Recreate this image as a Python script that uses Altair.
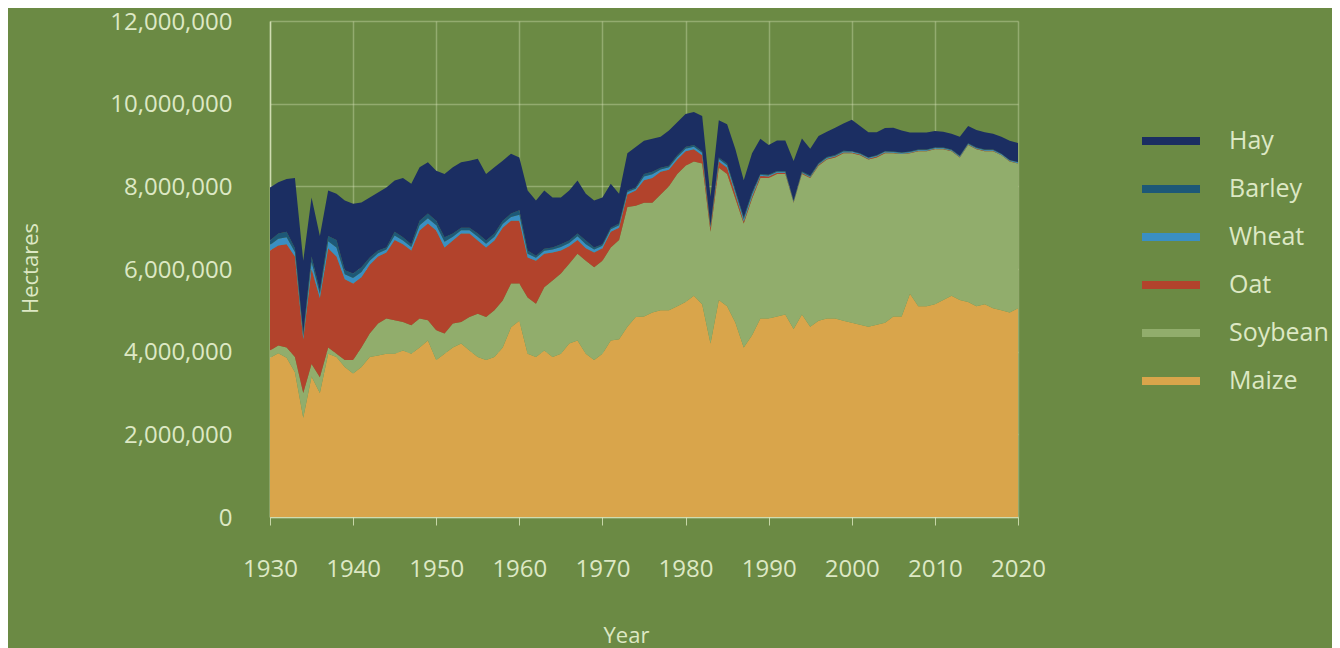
import altair as alt
import pandas as pd

years = list(range(1930, 2021))

# values in millions of hectares
maize = [3.85, 3.96, 3.85, 3.50, 2.40, 3.40, 3.00, 3.95, 3.87, 3.63,
         3.47, 3.63, 3.87, 3.91, 3.95, 3.95, 4.03, 3.95, 4.10, 4.27,
         3.80, 3.95, 4.10, 4.20, 4.03, 3.87, 3.80, 3.87, 4.10, 4.59,
         4.75, 3.95, 3.87, 4.03, 3.87, 3.95, 4.20, 4.27, 3.95, 3.80,
         3.95, 4.27, 4.30, 4.60, 4.84, 4.85, 4.95, 5.00, 5.00, 5.10,
         5.20, 5.35, 5.15, 4.20, 5.25, 5.10, 4.70, 4.10, 4.40, 4.80,
         4.80, 4.85, 4.90, 4.55, 4.90, 4.60, 4.75, 4.80, 4.80, 4.75,
         4.70, 4.65, 4.60, 4.65, 4.70, 4.85, 4.85, 5.40, 5.10, 5.10,
         5.15, 5.25, 5.35, 5.25, 5.20, 5.10, 5.15, 5.05, 5.00, 4.95, 5.05]
soybean = [0.18, 0.19, 0.25, 0.37, 0.60, 0.30, 0.38, 0.15, 0.08, 0.17,
           0.33, 0.47, 0.57, 0.77, 0.85, 0.81, 0.69, 0.69, 0.70, 0.49,
           0.72, 0.49, 0.58, 0.52, 0.81, 1.05, 1.04, 1.13, 1.14, 1.06,
           0.90, 1.36, 1.29, 1.53, 1.85, 1.94, 1.93, 2.10, 2.25, 2.24,
           2.25, 2.25, 2.40, 2.90, 2.69, 2.75, 2.65, 2.80, 3.00, 3.20,
           3.30, 3.25, 3.40, 2.70, 3.20, 3.20, 3.00, 3.00, 3.30, 3.40,
           3.40, 3.45, 3.40, 3.05, 3.40, 3.60, 3.75, 3.85, 3.90, 4.05,
           4.10, 4.10, 4.05, 4.05, 4.10, 3.95, 3.93, 3.40, 3.75, 3.75,
           3.75, 3.65, 3.50, 3.45, 3.80, 3.80, 3.70, 3.80, 3.75, 3.65, 3.50]
oat = [2.42, 2.42, 2.50, 2.43, 1.30, 2.30, 1.92, 2.40, 2.35, 1.95,
       1.85, 1.70, 1.66, 1.62, 1.60, 1.94, 1.88, 1.81, 2.13, 2.34,
       2.41, 2.08, 2.01, 2.14, 2.02, 1.77, 1.68, 1.69, 1.76, 1.52,
       1.52, 0.97, 1.04, 0.81, 0.68, 0.56, 0.42, 0.33, 0.30, 0.36,
       0.30, 0.38, 0.30, 0.30, 0.37, 0.55, 0.60, 0.55, 0.40, 0.35,
       0.35, 0.30, 0.20, 0.10, 0.15, 0.15, 0.10, 0.05, 0.05, 0.05,
       0.04, 0.03, 0.03, 0.02, 0.02, 0.02, 0.02, 0.02, 0.02, 0.02,
       0.02, 0.02, 0.02, 0.02, 0.02, 0.01, 0.01, 0.01, 0.01, 0.01,
       0.01, 0.01, 0.01, 0.01, 0.01, 0.01, 0.01, 0.01, 0.01, 0.01, 0.01]
wheat = [0.13, 0.16, 0.17, 0.11, 0.08, 0.17, 0.10, 0.17, 0.22, 0.12,
         0.13, 0.13, 0.10, 0.08, 0.07, 0.11, 0.09, 0.08, 0.13, 0.13,
         0.13, 0.14, 0.09, 0.08, 0.08, 0.09, 0.09, 0.09, 0.09, 0.09,
         0.14, 0.09, 0.07, 0.07, 0.07, 0.08, 0.08, 0.09, 0.10, 0.07,
         0.06, 0.06, 0.06, 0.06, 0.04, 0.09, 0.09, 0.06, 0.06, 0.06,
         0.06, 0.06, 0.06, 0.03, 0.06, 0.06, 0.06, 0.06, 0.06, 0.03,
         0.02, 0.02, 0.02, 0.02, 0.02, 0.02, 0.02, 0.02, 0.02, 0.02,
         0.02, 0.02, 0.02, 0.02, 0.02, 0.02, 0.02, 0.02, 0.02, 0.02,
         0.02, 0.02, 0.02, 0.02, 0.02, 0.02, 0.02, 0.02, 0.02, 0.02, 0.02]
barley = [0.11, 0.13, 0.13, 0.09, 0.07, 0.13, 0.08, 0.13, 0.18, 0.10,
          0.11, 0.11, 0.08, 0.07, 0.05, 0.09, 0.08, 0.07, 0.11, 0.11,
          0.11, 0.11, 0.08, 0.06, 0.06, 0.08, 0.08, 0.08, 0.08, 0.08,
          0.11, 0.08, 0.05, 0.05, 0.05, 0.07, 0.06, 0.07, 0.09, 0.05,
          0.04, 0.04, 0.04, 0.04, 0.03, 0.06, 0.06, 0.04, 0.04, 0.04,
          0.04, 0.04, 0.04, 0.02, 0.04, 0.04, 0.04, 0.04, 0.04, 0.02,
          0.02, 0.02, 0.02, 0.02, 0.02, 0.02, 0.02, 0.02, 0.02, 0.02,
          0.01, 0.01, 0.01, 0.01, 0.01, 0.01, 0.01, 0.01, 0.01, 0.01,
          0.01, 0.01, 0.01, 0.01, 0.01, 0.01, 0.01, 0.01, 0.01, 0.01, 0.01]
hay = [1.28, 1.24, 1.28, 1.70, 1.75, 1.43, 1.32, 1.10, 1.12, 1.69,
       1.69, 1.57, 1.45, 1.40, 1.45, 1.24, 1.43, 1.46, 1.29, 1.24,
       1.21, 1.53, 1.60, 1.58, 1.62, 1.81, 1.61, 1.60, 1.45, 1.45,
       1.28, 1.45, 1.34, 1.41, 1.21, 1.13, 1.21, 1.28, 1.13, 1.14,
       1.13, 1.06, 0.72, 0.90, 0.98, 0.80, 0.80, 0.75, 0.85, 0.80,
       0.80, 0.80, 0.85, 0.70, 0.90, 0.95, 1.00, 0.90, 0.95, 0.85,
       0.72, 0.74, 0.74, 0.95, 0.80, 0.65, 0.66, 0.61, 0.66, 0.66,
       0.76, 0.66, 0.61, 0.56, 0.56, 0.58, 0.53, 0.46, 0.41, 0.41,
       0.40, 0.38, 0.38, 0.46, 0.42, 0.42, 0.42, 0.38, 0.41, 0.46, 0.46]

crops = ["Hay", "Barley", "Wheat", "Oat", "Soybean", "Maize"]
colors = ["#1b2e62", "#1d5877", "#3a8fc3", "#b2432c", "#91ad6c", "#d9a54b"]
series = {"Maize": maize, "Soybean": soybean, "Oat": oat,
          "Wheat": wheat, "Barley": barley, "Hay": hay}
stack_rank = {"Maize": 0, "Soybean": 1, "Oat": 2, "Wheat": 3, "Barley": 4, "Hay": 5}

rows = []
for name, vals in series.items():
    for yr, v in zip(years, vals):
        rows.append({"Year": yr, "Crop": name, "Hectares": v * 1_000_000,
                     "rank": stack_rank[name]})
df = pd.DataFrame(rows)

txt = "#dde8c4"
pale = "#dfe9c0"
bg = "#6b8a44"

chart = alt.Chart(df).mark_area(interpolate="linear").encode(
    x=alt.X("Year:Q",
            scale=alt.Scale(domain=[1930, 2020], nice=False, zero=False),
            axis=alt.Axis(values=list(range(1930, 2021, 10)), format="d",
                          title="Year", labelPadding=32, tickSize=8,
                          labelFlush=False, labelFontSize=24,
                          titleX=356, titleY=118, titleBaseline="middle")),
    y=alt.Y("Hectares:Q", stack="zero",
            scale=alt.Scale(domain=[0, 12000000], nice=False),
            axis=alt.Axis(values=list(range(0, 12000001, 2000000)), format=",.0f",
                          title="Hectares", ticks=False, labelPadding=38,
                          labelFontSize=24, labelOffset=1,
                          titleX=-240, titleY=247, titleBaseline="middle",
                          titleAngle=-90)),
    color=alt.Color("Crop:N",
                    scale=alt.Scale(domain=crops, range=colors),
                    legend=alt.Legend(title=None, orient="none",
                                      legendX=872, legendY=91,
                                      symbolType="M-1,-0.14L1,-0.14L1,0.14L-1,0.14Z",
                                      symbolSize=3364, symbolStrokeWidth=0,
                                      labelFontSize=25, labelColor=txt,
                                      labelFont="Open Sans",
                                      labelOffset=29, rowPadding=6)),
    order=alt.Order("rank:Q"),
).properties(
    width=748, height=496,
    autosize=alt.AutoSizeParams(type="none"),
    padding={"left": 262, "top": 13, "right": 314, "bottom": 131},
    background=bg,
).configure_view(
    stroke=None, fill=bg
).configure_axis(
    labelFont="Open Sans", titleFont="Open Sans",
    labelFontSize=22, titleFontSize=22,
    labelColor=txt, titleColor=txt, titleFontWeight="normal",
    gridColor=pale, gridOpacity=0.35, gridWidth=1.5,
    domainColor=pale, domainOpacity=0.8, domainWidth=1.5,
    tickColor=pale, tickOpacity=0.8,
    zindex=1,
)

chart.save("out.html", embed_options={"renderer": "svg", "actions": False})
